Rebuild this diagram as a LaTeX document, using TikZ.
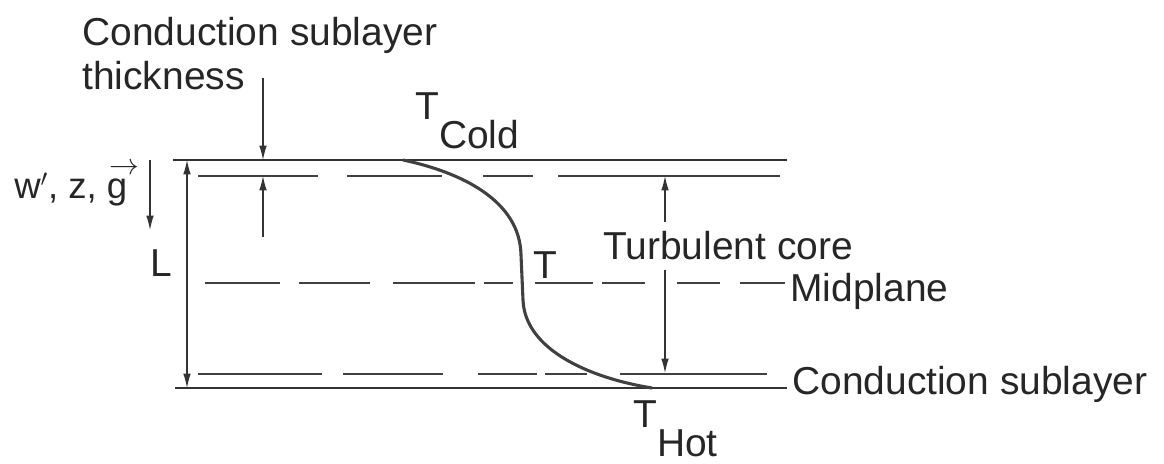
\documentclass[tikz,border=0pt]{standalone}
\usepackage{fontspec}
\setmainfont{Liberation Sans}
\usetikzlibrary{arrows.meta}

\begin{document}
\begin{tikzpicture}[
  x=0.025cm, y=-0.025cm,
  lbl/.style={inner sep=0pt, anchor=base west, text=black!85,
              font=\fontsize{27.7}{33}\selectfont},
  wall/.style={line width=1.2pt, black!80},
  sub/.style={line width=1.2pt, black!75},
  arr/.style={line width=0.8pt, black!80,
              -{Latex[length=3.6mm, width=1.9mm]}},
  prof/.style={line width=2.2pt, black!75},
]
\useasboundingbox (0,0) rectangle (1164,464);

%% Walls (cold top, hot bottom)
\draw[wall] (173,160) -- (787,160);
\draw[wall] (175,388) -- (787,388);

%% Edges of the conduction sublayers
\foreach \a/\b in {198/318, 347/442, 483/533, 558/780}{
  \draw[sub] (\a,176) -- (\b,176);
}
\foreach \a/\b in {198/322, 343/443, 478/537, 545/587, 620/767}{
  \draw[sub] (\a,374) -- (\b,374);
}

%% Midplane
\foreach \a/\b in {205/280, 299/370, 393/475, 484/513, 535/593,
                   602/645, 677/720, 740/785}{
  \draw[sub] (\a,283) -- (\b,283);
}

%% Temperature profile
\draw[prof] (403,160) .. controls (460,172) and (520,200) .. (521,255)
  -- (523,300) .. controls (525,350) and (590,378) .. (652,388);

%% Labels
\node[lbl] (sublthk) at (82,46) {Conduction sublayer};
\node[lbl] (thick) at (82,90) {thickness};
\node[lbl] (tcold) at (415,120) {T\raisebox{-0.72em}{Cold}};
\node[lbl] (tprof) at (533,279) {T};
\node[lbl] (turb) at (603,260) {Turbulent core};
\node[lbl] (midp) at (790,302) {Midplane};
\node[lbl] (subl) at (792,395) {Conduction sublayer};
\node[lbl] (thot) at (633,428) {T\raisebox{-0.72em}{Hot}};
\node[lbl, font=\fontsize{26}{30}\selectfont] (wzg) at (14,199)
  {w$'$, z, \rlap{\raisebox{0.66em}{\kern0.08em\scalebox{0.85}{$\rightarrow$}}}g};
\node[lbl] (len) at (150,277) {L};

%% Arrows
\coordinate (thkA) at (263,78);
\coordinate (thkB) at (263,160);
\coordinate (thkC) at (263,237);
\coordinate (thkD) at (263,176);
\draw[arr] (thkA) -- (thkB);
\draw[arr] (thkC) -- (thkD);

\coordinate (wA) at (150,160);
\coordinate (wB) at (150,230);
\draw[arr] (wA) -- (wB);

\coordinate (lenA) at (187,160);
\coordinate (lenB) at (187,388);
\draw[arr, {Latex[length=3.6mm, width=1.9mm]}-{Latex[length=3.6mm, width=1.9mm]}]
  (lenA) -- (lenB);

\coordinate (coreA) at (665,222);
\coordinate (coreB) at (665,176);
\coordinate (coreC) at (665,270);
\coordinate (coreD) at (665,373);
\draw[arr] (coreA) -- (coreB);
\draw[arr] (coreC) -- (coreD);
\end{tikzpicture}
\end{document}
